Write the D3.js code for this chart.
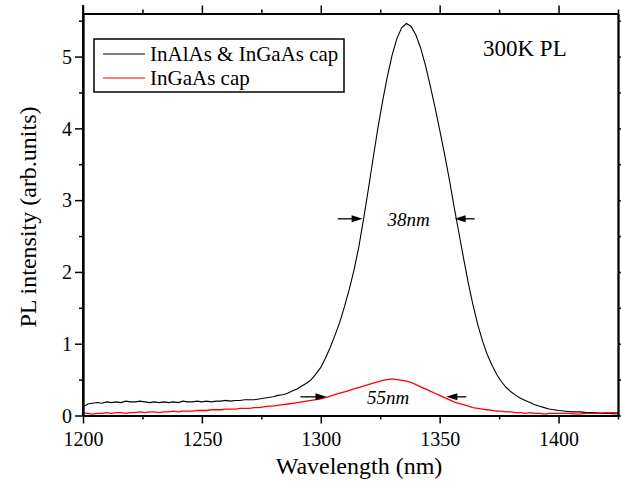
<!DOCTYPE html>
<html><head><meta charset="utf-8">
<script src="https://cdn.jsdelivr.net/npm/d3@7"></script>
<style>body{margin:0;background:#fff}svg{display:block}text{font-family:'Liberation Serif','Times New Roman',Times,serif}</style>
</head><body>
<svg id="c" width="621" height="481"></svg>
<script>
// ---------- data ----------
const seriesNames = ["InAlAs & InGaAs cap", "InGaAs cap"];
const seriesColors = ["#000000", "#ff0000"];

const wlA = [1200,1202,1204,1206,1208,1210,1212,1214,1216,1218,1220,1222,1224,1226,1228,1230,1232,1234,1236,1238,1240,1242,1244,1246,1248,1250,1252,1254,1256,1258,1260,1262,1264,1266,1268,1270,1272,1274,1276,1278,1280,1282,1284,1286,1288,1290,1292,1294,1296,1298,1300,1302,1304,1306,1308,1310,1312,1314,1316,1318,1320,1322,1324,1326,1328,1330,1332,1334,1336,1338,1340,1342,1344,1346,1348,1350,1352,1354,1356,1358,1360,1362,1364,1366,1368,1370,1372,1374,1376,1378,1380,1382,1384,1386,1388,1390,1392,1394,1396,1398,1400,1403,1406,1409,1412,1415,1418,1421,1425];
const plA = [0.12,0.16,0.17,0.18,0.17,0.19,0.18,0.19,0.18,0.20,0.19,0.19,0.20,0.19,0.18,0.19,0.18,0.19,0.18,0.19,0.18,0.20,0.19,0.19,0.20,0.19,0.20,0.19,0.20,0.20,0.21,0.20,0.21,0.21,0.22,0.22,0.22,0.23,0.24,0.25,0.26,0.28,0.29,0.31,0.34,0.37,0.41,0.45,0.50,0.58,0.67,0.80,0.95,1.12,1.30,1.52,1.76,2.03,2.35,2.74,3.15,3.58,4.00,4.38,4.72,5.02,5.25,5.40,5.46,5.42,5.30,5.12,4.88,4.60,4.30,3.98,3.65,3.30,2.92,2.56,2.20,1.85,1.54,1.27,1.04,0.85,0.70,0.57,0.47,0.39,0.33,0.28,0.24,0.21,0.18,0.15,0.13,0.11,0.09,0.08,0.07,0.06,0.05,0.05,0.04,0.04,0.03,0.03,0.02];

const wlB = [1200,1202,1204,1206,1208,1210,1212,1214,1216,1218,1220,1222,1224,1226,1228,1230,1232,1234,1236,1238,1240,1242,1244,1246,1248,1250,1252,1254,1256,1258,1260,1262,1264,1266,1268,1270,1272,1274,1276,1278,1280,1282,1284,1286,1288,1290,1292,1294,1296,1298,1300,1302,1304,1306,1308,1310,1312,1314,1316,1318,1320,1322,1324,1326,1328,1330,1332,1334,1336,1338,1340,1342,1344,1346,1348,1350,1352,1354,1356,1358,1360,1362,1364,1366,1368,1370,1372,1374,1376,1378,1380,1382,1384,1386,1388,1390,1392,1394,1396,1398,1400,1404,1408,1412,1416,1420,1425];
const plB = [0.04,0.03,0.02,0.03,0.03,0.04,0.03,0.04,0.04,0.03,0.04,0.04,0.05,0.04,0.05,0.05,0.04,0.05,0.05,0.06,0.05,0.06,0.06,0.06,0.07,0.07,0.07,0.08,0.08,0.08,0.09,0.09,0.09,0.10,0.10,0.10,0.11,0.11,0.12,0.13,0.13,0.14,0.15,0.16,0.17,0.18,0.19,0.20,0.21,0.22,0.23,0.25,0.27,0.29,0.31,0.33,0.35,0.37,0.39,0.41,0.43,0.45,0.47,0.49,0.50,0.51,0.50,0.49,0.48,0.46,0.43,0.40,0.37,0.34,0.31,0.28,0.25,0.22,0.19,0.17,0.15,0.13,0.11,0.10,0.09,0.08,0.07,0.06,0.06,0.05,0.05,0.04,0.04,0.03,0.04,0.03,0.03,0.02,0.03,0.03,0.03,0.03,0.02,0.03,0.03,0.04,0.04];

const xMajorTicks = [1200,1250,1300,1350,1400];
const xMinorTicks = [1225,1275,1325,1375,1425];
const yMajorTicks = [0,1,2,3,4,5];
const yMinorTicks = [0.5,1.5,2.5,3.5,4.5,5.5];
const xDomain = [1200,1425];
const yDomain = [0,5.6];

const xTitle = "Wavelength (nm)";
const yTitle = "PL intensity (arb.units)";
const tempLabel = "300K PL";

const fwhmLabels = ["38nm","55nm"];
const fwhmLeft  = [1317.6, 1302.4];
const fwhmRight = [1356.3, 1352.8];
const fwhmLevel = [2.74, 0.26];
const fwhmTextX = [1336.9, 1328.3];

// ---------- layout ----------
const FONT = "'Liberation Serif','Times New Roman',Times,serif";
const L = 83, R = 618, T = 13.5, B = 415.5;
const svg = d3.select("#c");
const x = d3.scaleLinear().domain(xDomain).range([L, R]);
const y = d3.scaleLinear().domain(yDomain).range([B, T]);

// curves
const line = d3.line().x(d => x(d[0])).y(d => y(d[1]));
const dataA = wlA.map((w,i) => [w, plA[i]]);
const dataB = wlB.map((w,i) => [w, plB[i]]);
svg.append("clipPath").attr("id","clp").append("rect")
  .attr("x",L).attr("y",T).attr("width",R-L).attr("height",B-T);
svg.append("path").datum(dataA).attr("d",line).attr("fill","none")
  .attr("stroke",seriesColors[0]).attr("stroke-width",1.1).attr("clip-path","url(#clp)");
svg.append("path").datum(dataB).attr("d",line).attr("fill","none")
  .attr("stroke",seriesColors[1]).attr("stroke-width",1.3).attr("clip-path","url(#clp)");

// axes
function styleAxis(g){
  g.attr("font-family", null).attr("font-size", null);
  g.select(".domain").attr("stroke","#000").attr("stroke-width",1.8);
  g.selectAll(".tick line").attr("stroke","#000").attr("stroke-width",1.5);
  g.selectAll(".tick text").style("font-family",FONT).style("font-size","20px").attr("fill","#000");
}
function ax(gen, tx, ty, vals, size, fmt, pad){
  const a = gen.tickValues(vals).tickSize(size).tickSizeOuter(0).tickPadding(pad || 3).tickFormat(fmt);
  const g = svg.append("g").attr("transform",`translate(${tx},${ty})`).call(a);
  styleAxis(g);
  return g;
}
const fmtInt = d3.format("d");
ax(d3.axisBottom(x), 0, B, xMajorTicks, 8, fmtInt, 8);
ax(d3.axisBottom(x), 0, B, xMinorTicks, 4, "");
ax(d3.axisTop(x), 0, T, xMajorTicks, 8, "");
ax(d3.axisTop(x), 0, T, xMinorTicks, 4, "");
const gl = ax(d3.axisLeft(y), L, 0, yMajorTicks, 8, fmtInt, 3);
gl.selectAll(".tick text").attr("dy","0.34em");
ax(d3.axisLeft(y), L, 0, yMinorTicks, 4, "");
ax(d3.axisRight(y), R, 0, yMajorTicks, 8, "");
ax(d3.axisRight(y), R, 0, yMinorTicks, 4, "");
// left axis line extends a little above the frame
svg.append("line").attr("x1",L).attr("x2",L).attr("y1",5).attr("y2",B)
  .attr("stroke","#000").attr("stroke-width",1.8);

// titles
svg.append("text").attr("x",359).attr("y",474).attr("text-anchor","middle")
  .style("font-family",FONT).style("font-size","24px").text(xTitle);
svg.append("text").attr("transform",`translate(36,217) rotate(-90)`).attr("text-anchor","middle")
  .style("font-family",FONT).style("font-size","24px").text(yTitle);

// legend
const lg = svg.append("g");
lg.append("rect").attr("x",94).attr("y",39).attr("width",250).attr("height",53)
  .attr("fill","#fff").attr("stroke","#000").attr("stroke-width",1.5);
seriesNames.forEach((n,i) => {
  const yy = 54 + i*24;
  lg.append("line").attr("x1",103).attr("x2",145).attr("y1",yy).attr("y2",yy)
    .attr("stroke",seriesColors[i]).attr("stroke-width",1.2);
  lg.append("text").attr("x",150).attr("y",yy+7).style("font-family",FONT).style("font-size","21px").text(n);
});

// temperature label
svg.append("text").attr("x",483).attr("y",55.5).style("font-family",FONT).style("font-size","23px").text(tempLabel);

// FWHM annotations
const arrowLen = [[25,20],[26,20]];
function arrow(xTip, yy, dir, len){
  const tail = xTip - dir*len;
  svg.append("line").attr("x1",tail).attr("x2",xTip - dir*6).attr("y1",yy).attr("y2",yy)
    .attr("stroke","#000").attr("stroke-width",1.3);
  svg.append("path").attr("d",`M${xTip},${yy} L${xTip-dir*11},${yy-3.5} L${xTip-dir*11},${yy+3.5} Z`).attr("fill","#000");
}
fwhmLabels.forEach((lab,i) => {
  const yy = y(fwhmLevel[i]);
  arrow(x(fwhmLeft[i]), yy, 1, arrowLen[i][0]);
  arrow(x(fwhmRight[i]), yy, -1, arrowLen[i][1]);
  svg.append("text").attr("x",x(fwhmTextX[i])).attr("y",yy+7).attr("text-anchor","middle")
    .style("font-family",FONT).style("font-style","italic").style("font-size","19px").text(lab);
});
</script>
</body></html>
